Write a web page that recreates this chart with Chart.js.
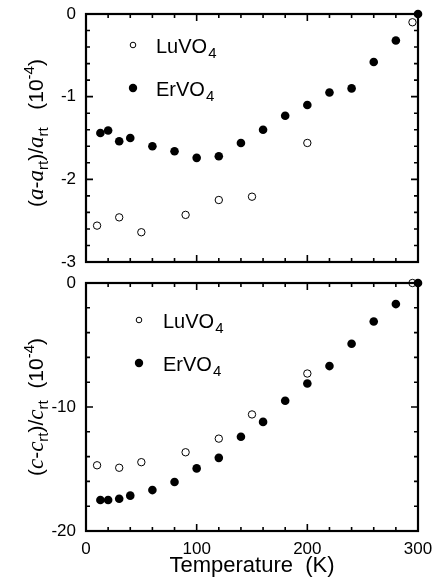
<!DOCTYPE html>
<html>
<head>
<meta charset="utf-8">
<script src="https://cdn.jsdelivr.net/npm/chart.js@4.4.1/dist/chart.umd.min.js"></script>
<style>
  body { margin: 0; background: #fff; }
  #wrap { position: relative; width: 438px; height: 584px; }
  canvas { position: absolute; left: 0; }
  #topChart { top: 0; }
  #bottomChart { top: 270px; }
</style>
</head>
<body>
<div id="wrap">
  <canvas id="topChart" width="438" height="275"></canvas>
  <canvas id="bottomChart" width="438" height="314"></canvas>
</div>
<script>
var SANS = "'Liberation Sans', Arial, Helvetica, sans-serif";
var SERIF = "'Liberation Serif', 'Times New Roman', serif";

// temperatures (K)
var erTemps = [13, 20, 30, 40, 60, 80, 100, 120, 140, 160, 180, 200, 220, 240, 260, 280, 300];
var luTemps = [10, 30, 50, 90, 120, 150, 200, 295];

// (a - a_rt)/a_rt in 1e-4
var erA = [-1.44, -1.41, -1.54, -1.50, -1.60, -1.66, -1.74, -1.72, -1.56, -1.40, -1.23, -1.10, -0.95, -0.90, -0.58, -0.32, 0];
var luA = [-2.56, -2.46, -2.64, -2.43, -2.25, -2.21, -1.56, -0.10];

// (c - c_rt)/c_rt in 1e-4
var erC = [-17.5, -17.5, -17.4, -17.15, -16.7, -16.05, -14.95, -14.1, -12.4, -11.2, -9.5, -8.1, -6.7, -4.9, -3.1, -1.7, 0];
var luC = [-14.7, -14.9, -14.45, -13.65, -12.55, -10.6, -7.3, 0];

var xTicks = [0, 100, 200, 300];
var topYTicks = [0, -1, -2, -3];
var bottomYTicks = [0, -10, -20];

function pairs(xs, ys) {
  return xs.map(function (x, i) { return { x: x, y: ys[i] }; });
}

// frame with inward ticks on all four sides
var framePlugin = {
  id: "frame",
  beforeDatasetsDraw: function (chart, args, opts) {
    var ctx = chart.ctx, a = chart.chartArea;
    var xs = chart.scales.x, ys = chart.scales.y;
    ctx.save();
    ctx.strokeStyle = "#000";
    ctx.lineWidth = 1.6;
    var n = Math.round((xs.max - xs.min) / opts.xMinor);
    for (var i = 1; i < n; i++) {
      var v = xs.min + i * opts.xMinor;
      var len = Math.abs(v / opts.xMajor - Math.round(v / opts.xMajor)) < 1e-6 ? 7 : 4;
      var p = xs.getPixelForValue(v);
      ctx.beginPath();
      ctx.moveTo(p, a.bottom); ctx.lineTo(p, a.bottom - len);
      ctx.moveTo(p, a.top); ctx.lineTo(p, a.top + len);
      ctx.stroke();
    }
    n = Math.round((ys.max - ys.min) / opts.yMinor);
    for (i = 1; i < n; i++) {
      v = ys.min + i * opts.yMinor;
      len = Math.abs(v / opts.yMajor - Math.round(v / opts.yMajor)) < 1e-6 ? 7 : 4;
      p = ys.getPixelForValue(v);
      ctx.beginPath();
      ctx.moveTo(a.left, p); ctx.lineTo(a.left + len, p);
      ctx.moveTo(a.right, p); ctx.lineTo(a.right - len, p);
      ctx.stroke();
    }
    ctx.lineWidth = 2.2;
    ctx.strokeRect(a.left, a.top, a.right - a.left, a.bottom - a.top);
    ctx.restore();
  },
  afterDraw: function (chart, args, opts) {
    var ctx = chart.ctx, a = chart.chartArea;
    ctx.save();
    ctx.fillStyle = "#000";
    ctx.strokeStyle = "#000";
    // legend, LuVO4 on first row
    var order = [1, 0];
    order.forEach(function (di, row) {
      var ds = chart.data.datasets[di];
      var mx = a.left + opts.legX, my = a.top + opts.legY + row * opts.legDy;
      ctx.beginPath();
      if (ds.legendFilled) {
        ctx.arc(mx, my, 4.2, 0, Math.PI * 2);
        ctx.fill();
      } else {
        ctx.lineWidth = 1;
        ctx.arc(mx, my, 2.8, 0, Math.PI * 2);
        ctx.stroke();
      }
      var tx = a.left + opts.legTextX, ty = my + 7.5;
      ctx.font = "20px " + SANS;
      var main = ds.label.slice(0, -1);
      ctx.textBaseline = "alphabetic";
      ctx.textAlign = "left";
      ctx.fillText(main, tx, ty);
      var w = ctx.measureText(main).width;
      ctx.font = "15px " + SANS;
      ctx.fillText(ds.label.slice(-1), tx + w + 1, ty + 5);
    });
    // rotated y-axis title with sub/superscripts
    var segs = opts.yTitle;
    var total = 0;
    segs.forEach(function (s) { ctx.font = s.font; s.w = ctx.measureText(s.t).width; total += s.w; });
    ctx.translate(43, (a.top + a.bottom) / 2 + opts.titleShift);
    ctx.rotate(-Math.PI / 2);
    var x0 = -total / 2;
    ctx.textAlign = "left";
    ctx.textBaseline = "alphabetic";
    segs.forEach(function (s) { ctx.font = s.font; ctx.fillText(s.t, x0, s.dy || 0); x0 += s.w; });
    ctx.restore();
  }
};

function titleSegs(v, gap) {
  var main = "21px " + SANS, it = "italic 23px " + SERIF, sm = "15px " + SANS;
  return [
    { t: "(", font: main }, { t: v, font: it }, { t: "-", font: main }, { t: v, font: it },
    { t: "rt", font: sm, dy: 5 }, { t: ")", font: main }, { t: "/", font: main },
    { t: v, font: it }, { t: "rt", font: sm, dy: 5 }, { t: gap + "(10", font: main },
    { t: "-4", font: sm, dy: -9 }, { t: ")", font: main }
  ];
}

function makeChart(id, cfg) {
  return new Chart(document.getElementById(id), {
    type: "scatter",
    data: {
      datasets: [
        {
          label: "ErVO4",
          data: pairs(erTemps, cfg.er),
          pointRadius: 4.3,
          backgroundColor: "#000",
          borderColor: "#000",
          borderWidth: 0,
          legendFilled: true,
          clip: false
        },
        {
          label: "LuVO4",
          data: pairs(luTemps, cfg.lu),
          pointRadius: 3.7,
          backgroundColor: "rgba(0,0,0,0)",
          borderColor: "#000",
          borderWidth: 1,
          legendFilled: false,
          clip: false
        }
      ]
    },
    options: {
      responsive: false,
      animation: false,
      events: [],
      layout: { padding: { top: cfg.padTop, right: 20, left: 0, bottom: 0 } },
      plugins: {
        legend: { display: false },
        tooltip: { enabled: false },
        frame: cfg.frame
      },
      scales: {
        x: {
          type: "linear",
          min: 0,
          max: 300,
          afterBuildTicks: function (s) { s.ticks = xTicks.map(function (v) { return { value: v }; }); },
          afterFit: function (s) { s.height = cfg.xHeight; },
          grid: { display: false },
          border: { display: false },
          ticks: { display: cfg.showX, color: "#000", padding: 0, maxRotation: 0, font: { family: SANS, size: 17 } },
          title: {
            display: cfg.showX,
            text: "Temperature  (K)",
            color: "#000",
            padding: { top: 0, bottom: 5 },
            font: { family: SANS, size: 22 }
          }
        },
        y: {
          type: "linear",
          min: cfg.yMin,
          max: 0,
          afterBuildTicks: function (s) { s.ticks = cfg.yTicks.map(function (v) { return { value: v }; }); },
          afterFit: function (s) { s.width = 86; },
          grid: { display: false },
          border: { display: false },
          ticks: { color: "#000", padding: 2, font: { family: SANS, size: 17 } }
        }
      }
    },
    plugins: [framePlugin]
  });
}

makeChart("topChart", {
  er: erA, lu: luA, yMin: -3, yTicks: topYTicks, padTop: 14, xHeight: 13, showX: false,
  frame: {
    xMinor: 20, xMajor: 100, yMinor: 0.2, yMajor: 1,
    legX: 47, legY: 31, legDy: 43, legTextX: 70,
    titleShift: -5, yTitle: titleSegs("a", "   ")
  }
});

makeChart("bottomChart", {
  er: erC, lu: luC, yMin: -20, yTicks: bottomYTicks, padTop: 13, xHeight: 53, showX: true,
  frame: {
    xMinor: 20, xMajor: 100, yMinor: 2, yMajor: 10,
    legX: 53, legY: 37, legDy: 43, legTextX: 77,
    titleShift: 0, yTitle: titleSegs("c", "  ")
  }
});
</script>
</body>
</html>
